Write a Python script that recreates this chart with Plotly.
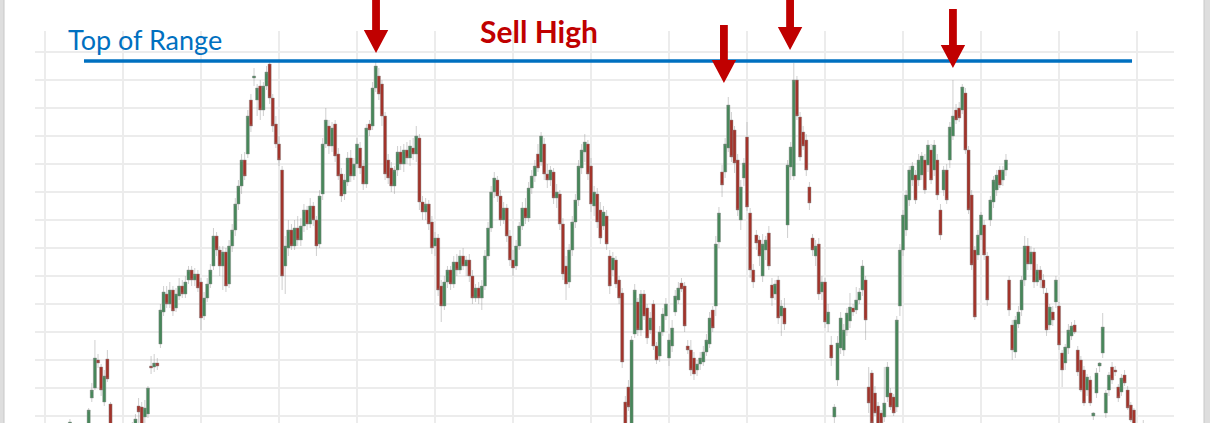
import plotly.graph_objects as go

# ---- data (price units; candles) ----
opens = [-10,-14,-12,-16,-13,-18,-8,18,28,56,49,14,57,12,-12,-15,-18,-14,-20,-16,
 -12,-10,10,9,-1,2,50,49,53,72,104,122,112,126,108,120,130,122,136,146,
 136,142,134,100,118,132,150,180,166,150,164,132,170,186,212,230,256,262,316,338,
 316,330,306,330,352,318,292,272,246,150,168,186,170,188,176,190,206,192,210,196,
 172,222,272,290,270,292,262,242,222,234,258,240,252,268,250,232,292,290,328,340,
 332,300,256,248,230,246,264,252,266,258,268,262,278,214,204,212,194,170,178,130,
 110,134,146,132,154,146,160,150,156,140,118,128,118,130,160,188,224,236,220,196,
 208,180,156,150,170,190,208,198,228,240,262,254,272,242,236,244,218,222,192,150,
 134,166,194,216,248,264,272,250,210,222,206,190,200,160,146,156,136,123,14,29,
 -10,82,114,86,122,108,86,112,70,60,84,100,58,70,104,116,133,130,70,66,
 58,46,52,54,64,72,106,110,174,244,244,268,296,286,256,196,238,279,203,146,
 181,176,140,166,183,131,122,136,100,108,191,249,240,336,299,284,276,229,178,160,
 172,124,134,92,71,-1,36,68,66,86,95,108,106,116,126,136,29,43,23,10,
 3,-1,19,23,19,9,110,166,186,216,236,241,236,241,256,251,266,246,256,206,
 226,246,256,280,306,308,306,323,266,221,166,161,181,191,160,196,214,226,246,236,
 246,136,91,64,92,106,136,170,152,164,134,146,136,123,91,104,114,110,63,53,
 68,80,91,66,56,46,26,36,0,23,50,63,3,26,49,46,29,24,41,26,
 11,6,-12,-16,-10]
highs = [-3,-9,-8,-10,-8,-10,8,33,76,62,52,46,66,14,-8,-10,-12,-10,-12,-9,
 -6,2,18,14,16,30,60,62,58,112,130,130,134,130,128,138,136,140,150,150,
 148,146,138,124,138,152,188,184,170,170,168,176,192,218,236,262,264,306,322,348,
 332,336,334,350,356,322,300,280,250,180,196,192,196,200,198,212,210,218,214,200,
 226,278,308,296,294,296,268,248,242,264,266,258,278,274,256,292,296,334,355,348,
 336,304,262,254,250,270,270,272,274,276,278,290,282,220,218,216,200,184,182,136,
 140,150,150,160,162,166,168,160,162,146,132,134,136,166,194,230,244,240,226,214,
 212,186,166,176,194,214,218,234,246,256,272,284,278,252,250,248,232,226,198,160,
 172,200,222,256,272,282,276,258,230,228,214,210,206,166,164,160,140,128,20,36,
 80,132,118,126,126,112,104,116,74,90,108,118,82,96,126,134,138,134,76,76,
 64,56,64,70,82,104,110,180,209,251,278,319,304,290,262,236,258,294,208,152,
 186,180,182,180,190,138,136,140,116,118,256,274,353,340,304,290,282,234,182,176,
 178,140,138,112,80,12,80,104,92,108,123,112,129,128,156,140,49,46,30,14,
 6,49,54,28,22,100,172,206,226,250,254,246,262,264,262,276,272,276,262,212,
 250,252,294,336,312,314,332,328,270,226,170,186,204,196,164,220,240,246,250,250,
 262,140,96,100,110,140,180,178,170,168,152,150,142,128,112,110,140,114,66,72,
 92,94,96,70,60,50,42,40,4,48,54,103,26,44,54,50,32,42,46,30,
 14,8,-9,-10,-4]
lows = [-14,-20,-18,-22,-20,-22,-10,14,26,48,20,10,34,-15,-20,-22,-25,-22,-26,-22,
 -18,-15,-10,-15,-8,-2,42,44,46,68,100,108,108,100,104,116,118,118,132,130,
 130,124,86,96,114,128,146,160,140,126,124,128,164,180,206,222,236,258,284,330,
 300,296,300,326,312,284,268,250,126,122,160,166,166,170,170,184,186,188,190,160,
 168,216,268,262,264,254,236,214,216,230,234,236,248,242,226,228,280,286,324,316,
 290,236,232,224,222,240,246,244,252,250,256,254,206,196,196,186,162,160,120,94,
 106,128,126,128,140,142,146,140,134,112,114,112,106,126,156,184,218,214,190,192,
 174,150,140,146,166,186,192,194,222,234,244,250,236,228,230,212,208,186,136,116,
 128,160,188,210,242,254,236,204,200,188,172,186,166,122,140,128,112,48,-20,5,
 -14,78,80,80,96,72,82,66,52,54,80,96,50,64,100,112,124,84,62,40,
 36,40,46,50,60,68,84,100,168,219,238,264,254,243,200,186,230,205,138,128,
 166,150,134,156,146,110,116,92,80,86,178,236,236,296,255,266,240,206,160,150,
 116,116,88,84,50,-10,30,62,60,80,88,100,102,112,120,76,3,-10,0,-14,
 -14,-6,14,6,0,4,100,160,180,210,230,212,230,236,222,244,232,240,216,176,
 220,212,248,276,292,294,302,262,202,146,96,156,176,156,110,190,208,220,228,230,
 240,100,56,58,88,100,130,146,146,128,130,128,122,80,86,90,108,66,29,46,
 62,76,82,40,24,10,20,10,-4,18,44,58,-2,20,32,40,14,20,30,6,
 -6,-14,-20,-22,-18]
closes = [-6,-12,-16,-13,-18,-12,6,26,58,53,26,40,37,-10,-15,-18,-14,-20,-16,-12,
 -9,-3,4,-10,8,28,48,53,50,106,124,112,126,105,122,130,122,134,146,136,
 142,128,98,118,132,146,180,166,150,164,130,170,186,212,230,256,240,300,290,340,
 328,306,330,344,318,290,272,256,140,170,186,170,188,176,190,206,192,210,196,170,
 220,272,296,270,288,260,240,220,236,258,240,252,272,248,232,288,286,328,350,322,
 300,242,238,230,246,264,252,266,258,270,262,280,214,204,212,192,168,178,126,110,
 134,146,132,154,146,160,150,156,140,118,128,118,130,160,188,224,238,220,196,208,
 180,156,148,170,190,208,198,228,240,250,248,280,242,236,246,218,224,192,142,132,
 166,194,216,250,266,274,242,212,224,194,178,204,172,130,158,132,118,54,-12,9,
 76,126,86,122,100,78,98,70,56,84,102,112,76,88,120,128,127,90,66,46,
 42,52,58,64,76,98,88,172,203,231,272,311,259,253,206,229,253,209,146,134,
 173,160,172,176,150,118,132,98,110,92,251,269,336,300,259,270,246,213,166,170,
 122,134,94,104,58,9,73,98,86,103,109,104,116,124,150,96,13,-7,3,-10,
 -8,13,49,9,3,96,166,201,221,246,250,216,256,260,226,271,236,271,221,181,
 246,216,289,300,296,298,329,266,206,151,99,181,201,161,116,216,236,241,231,246,
 256,106,66,96,104,136,170,152,164,134,146,136,128,86,109,96,136,71,46,69,
 86,90,84,44,26,13,39,13,3,43,53,89,23,41,36,44,18,38,33,8,
 -4,-10,-16,-12,-14]

days = list(range(len(opens)))

# reference levels / markers (in data units)
top_of_range = 355
sell_arrows = [(98.1, 363, 416), (209.6, 333, 391), (230.8, 366, 416), (283.0, 348, 407)]

X_RANGE = [-11.2, 353.85]
Y_RANGE = [-7, 385]
W, H = 1210, 423
ML, MR, MT, MB = 35, 36, 31, 0
PW, PH = W - ML - MR, H - MT - MB

def xp(i):
    return (i - X_RANGE[0]) / (X_RANGE[1] - X_RANGE[0])

def yp(v):
    return (v - Y_RANGE[0]) / (Y_RANGE[1] - Y_RANGE[0])

fig = go.Figure(go.Candlestick(
    x=days, open=opens, high=highs, low=lows, close=closes,
    increasing=dict(fillcolor="#47875a", line=dict(color="rgba(140,140,140,0.6)", width=0.7)),
    decreasing=dict(fillcolor="#a2332a", line=dict(color="rgba(140,140,140,0.6)", width=0.7)),
    whiskerwidth=0, hoverinfo="skip",
))

shapes = []
# top of range line
shapes.append(dict(type="line", xref="x", yref="y", x0=4.5, x1=340.4,
                   y0=top_of_range, y1=top_of_range,
                   line=dict(color="#0070C0", width=3.5), layer="above"))
# arrows
sw, hw, hh = 3.9 / PW, 12.2 / PW, 23 / PH
for (ix, tip, top) in sell_arrows:
    cx, ty, tt = xp(ix), yp(tip), yp(top)
    pts = [(cx - sw, tt), (cx + sw, tt), (cx + sw, ty + hh), (cx + hw, ty + hh),
           (cx, ty), (cx - hw, ty + hh), (cx - sw, ty + hh)]
    path = "M " + " L ".join(f"{a:.5f},{b:.5f}" for a, b in pts) + " Z"
    shapes.append(dict(type="path", xref="paper", yref="paper", path=path,
                       fillcolor="#C00000", line=dict(width=0), layer="above"))
# grey slide edges
shapes.append(dict(type="rect", xref="paper", yref="paper", x0=-ML / PW - 0.01, x1=(4 - ML) / PW,
                   y0=-0.01, y1=H / PH + 0.01, fillcolor="#dedede",
                   line=dict(color="#c8c8c8", width=1), layer="above"))
shapes.append(dict(type="rect", xref="paper", yref="paper", x0=(1204 - ML) / PW, x1=(1215 - ML) / PW,
                   y0=-0.01, y1=H / PH + 0.01, fillcolor="#dedede",
                   line=dict(color="#c8c8c8", width=1), layer="above"))

annotations = [
    dict(text="Top of Range", xref="paper", yref="paper", x=(66 - ML) / PW, y=(H - 39.5) / PH,
         xanchor="left", yanchor="middle", showarrow=False,
         font=dict(family="Lato", size=27, color="#0070C0")),
    dict(text="<b>Sell High</b>", xref="paper", yref="paper", x=(539 - ML) / PW, y=(H - 30.8) / PH,
         xanchor="center", yanchor="middle", showarrow=False,
         font=dict(family="Lato", size=30, color="#C00000")),
]

fig.update_layout(
    width=W, height=H, margin=dict(l=ML, r=MR, t=MT, b=MB, pad=0),
    paper_bgcolor="white", plot_bgcolor="white", showlegend=False,
    boxgap=0, boxgroupgap=0,
    shapes=shapes, annotations=annotations,
    xaxis=dict(range=X_RANGE, tick0=-8, dtick=25, showgrid=True, gridcolor="#ececec",
               gridwidth=1.5, zeroline=False, showline=False, showticklabels=False,
               ticks="", rangeslider=dict(visible=False), fixedrange=True),
    yaxis=dict(range=Y_RANGE, tick0=0, dtick=28, showgrid=True, gridcolor="#ececec",
               gridwidth=1.5, zeroline=False, showline=False, showticklabels=False,
               ticks="", fixedrange=True),
)

fig.write_html("out.html", config={"displayModeBar": False},
               post_script="document.body.style.margin='0';document.body.style.overflow='hidden';")
